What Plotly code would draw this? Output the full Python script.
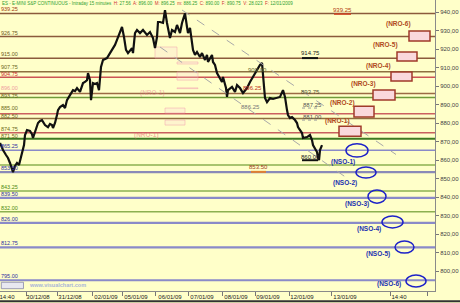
import plotly.graph_objects as go

# ---------------- data ----------------
bar_x = [0, 3, 6, 8, 10, 12, 13, 15, 17, 19, 21, 22, 24, 25,
         26, 27, 30, 32, 33, 35, 38, 40, 42, 45, 48, 50, 52, 53, 55, 57, 58, 60, 63, 65, 67, 70, 73, 75, 77, 80,
         83, 85, 87, 88, 90, 91, 93, 95, 97, 99, 101, 103, 105, 107, 110, 113, 115, 117, 120, 122, 124, 126, 128,
         130, 132, 133, 135, 137, 140, 143, 145, 147, 150, 153, 155, 157,
         158, 160, 163, 165, 167, 170, 172, 175, 177, 180, 182, 185, 187, 188, 190,
         192, 193, 195, 197, 200, 202, 205, 207, 208, 210, 212, 213, 215, 217, 220, 222, 223,
         226, 227, 228, 232, 235, 237, 240, 243, 247, 250, 253, 255, 257, 260, 262, 263, 265, 267, 270, 273, 277,
         280, 283, 285, 287, 288, 290, 292, 295, 297, 298, 300, 302, 303, 307, 310, 312, 313, 315, 317, 318, 319,
         320, 322]
price = [869.2, 865.4, 862.7, 861.1, 858.4, 855.7, 853.5, 856.8, 858.4, 857.3, 861.1, 863.8, 868.1, 873.5,
         875.1, 876.2, 875.7, 874.0, 871.9, 875.1, 880.0, 881.1, 881.6, 878.9, 877.8, 879.5, 878.9, 877.3, 880.0, 884.3,
         887.0, 888.6, 889.7, 888.1, 892.4, 895.1, 897.8, 897.3, 898.9, 896.8,
         901.6, 902.2, 903.2, 907.0, 903.2, 892.4, 901.6, 901.1, 901.6, 897.8, 910.3, 914.1, 914.6, 915.1, 917.8,
         920.5, 922.2, 924.9, 929.2, 931.9, 926.5, 919.5, 917.8,
         919.5, 920.5, 917.8, 928.6, 930.3, 928.6, 930.3, 928.6, 927.6, 929.2, 925.9, 920.5, 926.5,
         934.6, 934.6, 934.1, 941.0, 934.1, 925.9, 930.3, 929.2, 933.0, 928.6, 934.1, 939.25, 931.9, 928.6, 931.4,
         923.8, 919.5, 916.8, 918.4, 915.7, 917.8, 914.1, 916.8, 913.0, 915.1, 916.8, 913.0, 911.4, 907.0, 904.3,
         902.2, 904.9,
         898.9, 894.1, 897.8, 899.5, 896.8, 900.5, 898.9, 896.2, 898.9, 902.2, 904.9, 907.0, 908.6, 911.4, 912.5,
         907.0, 893.5, 891.3, 893.5, 893.0, 893.5,
         894.1, 897.8, 894.1, 887.0, 884.3, 882.7, 883.2, 881.6, 880.0, 877.8, 876.2, 874.6, 871.9, 872.4, 873.5,
         870.8, 868.1, 866.5, 864.3, 861.1, 860.0,
         865.4, 868.1]

level_values = [939.25, 926.75, 915.00, 907.75, 904.75, 896.00, 893.75, 885.00, 882.50, 874.75, 871.50,
                865.25, 857.25, 853.50, 843.25, 839.50, 832.00, 826.00, 812.75, 795.00]
level_labels = ["939.25", "926.75", "915.00", "907.75", "904.75", "896.00", "893.75", "885.00", "882.50",
                "874.75", "871.50", "865.25", "", "853.50", "843.25", "839.50", "832.00", "826.00", "812.75",
                "795.00"]

nro_names = ["(NRO-1)", "(NRO-2)", "(NRO-3)", "(NRO-4)", "(NRO-5)", "(NRO-6)"]
nro_low = [872.8, 883.3, 892.4, 902.7, 913.5, 924.3]
nro_high = [878.2, 889.1, 897.8, 907.6, 918.4, 929.7]

nso_names = ["(NSO-1)", "(NSO-2)", "(NSO-3)", "(NSO-4)", "(NSO-5)", "(NSO-6)"]
nso_low = [861.6, 850.3, 836.7, 823.3, 809.7, 791.4]
nso_high = [868.8, 856.2, 843.8, 829.7, 816.2, 797.8]

day_labels = ["14:40", "30/12/08", "31/12/08", "02/01/09", "05/01/09", "06/01/09", "07/01/09",
              "08/01/09", "09/01/09", "12/01/09", "13/01/09", "14:40"]
day_label_pos = [7, 38, 70, 106, 136, 170, 202, 236, 268, 302, 345, 399]
day_breaks = [26, 57, 92, 122, 155, 188, 222, 255, 289, 331, 390, 427]

y_ticks = [940, 930, 920, 910, 900, 890, 880, 870, 860, 850, 840, 830, 820, 810, 800]

price_notes = ["939.25", "914.75", "893.75", "887.25", "881.00", "860.00", "853.50", "896.25", "886.25", "909.00"]
note_x = [342, 310, 310, 312, 312, 310, 258, 252, 250, 257]
note_y = [941.3, 917.8, 896.6, 890.0, 883.4, 861.8, 856.0, 898.9, 888.6, 908.8]

# ---------------- styles / placement ----------------
BG = "#FFFFC9"
FONT = "Liberation Sans, Arial, sans-serif"
level_colors = ["#8B5A3C", "#8B5A3C", "#8B5A3C", "#8E7040", "#CC5555", "#9B6A45", "#6E9A3A", "#CC6060",
                "#8E6E40", "#C86060", "#3E7A22", "#8A8AC8", "#8CB050", "#8A8AB8", "#8CB050", "#8A8AC8",
                "#8CB050", "#8A8AC8", "#8A8AC8", "#8A8AC8"]
level_widths = [1.5, 1.5, 1.5, 1.5, 1.5, 1.5, 1.5, 1.5, 1.5, 1.5, 2.2, 1.5, 1.5, 2.2, 1.5, 2.2, 1.5, 2.2, 2.2, 2.2]
label_colors = ["#A03A10", "#6E5A20", "#6E5A20", "#6E6A20", "#CC3030", "#F0A0A0", "#6E6A20", "#6E6A20",
                "#6E6A20", "#6E6A20", "#6E6A20", "#3030A0", "#3030A0", "#3030A0", "#4E8A10", "#3030A0",
                "#4E8A10", "#3030A0", "#3030A0", "#3030A0"]
label_shift = [-1, -1, -1, 0, -2, 0, -3, 1, -3, -1, -2, -1, 0, -1, -1, -1, -1, -1, -1, -1]
nro_x0 = [339, 354, 373, 391, 397, 409]
nro_x1 = [361, 374, 395, 412, 417, 430]
nro_lx = [337, 342, 363, 378, 385, 398]
nro_ly = [881.1, 890.8, 901.1, 910.8, 922.2, 933.5]
nso_x0 = [346, 356, 368, 382, 395, 406]
nso_x1 = [368, 376, 386, 403, 414, 426]
nso_lx = [343, 345, 357, 369, 378, 389]
nso_ly = [858.9, 847.6, 836.2, 822.7, 809.2, 793.0]
note_colors = ["#B03A10", "#222222", "#555533", "#555555", "#555555", "#222222", "#A04020", "#C03020",
               "#777777", "#666633"]

fig = go.Figure()

shapes = []
annotations = []

# faint ghost boxes from earlier projections
ghost = [(155, 177, 915.1, 921.1), (177, 198, 911.9, 913.0), (177, 198, 903.2, 907.6),
         (177, 198, 898.6, 899.0), (165, 185, 885.4, 888.1), (165, 185, 878.9, 881.6)]
for gx0, gx1, gy0, gy1 in ghost:
    shapes.append(dict(type="rect", xref="x", yref="y", x0=gx0, x1=gx1, y0=gy0, y1=gy1,
                       line=dict(color="rgba(240,150,170,0.45)", width=1),
                       fillcolor="rgba(250,210,220,0.25)", layer="below"))
annotations.append(dict(x=152, y=896.5, xref="x", yref="y", text="<b>(NRO-1)</b>", showarrow=False,
                        font=dict(family=FONT, size=6.5, color="rgba(230,120,140,0.45)")))
annotations.append(dict(x=146, y=873.3, xref="x", yref="y", text="<b>(NRO-1)</b>", showarrow=False,
                        font=dict(family=FONT, size=6.5, color="rgba(230,90,110,0.45)")))

# horizontal levels
for v, c, w in zip(level_values, level_colors, level_widths):
    shapes.append(dict(type="line", xref="paper", yref="y", x0=0, x1=1, y0=v, y1=v,
                       line=dict(color=c, width=w), layer="below"))
for v, t, c, s in zip(level_values, level_labels, label_colors, label_shift):
    if t:
        annotations.append(dict(x=0, y=v, xref="paper", yref="y", text=t, showarrow=False,
                                xanchor="left", yanchor="bottom", yshift=s, xshift=-1,
                                font=dict(family=FONT, size=5.5, color=c)))

# dashed trend lines
shapes.append(dict(type="line", xref="x", yref="y", x0=182, y0=941.1, x1=396, y1=863.0,
                   line=dict(color="#A8A8A8", width=1, dash="dash")))
shapes.append(dict(type="line", xref="x", yref="y", x0=160, y0=921.1, x1=346, y1=850.6,
                   line=dict(color="#A8A8A8", width=1, dash="dash")))

# NRO boxes
for n, lo, hi, x0, x1, lx, ly in zip(nro_names, nro_low, nro_high, nro_x0, nro_x1, nro_lx, nro_ly):
    shapes.append(dict(type="rect", xref="x", yref="y", x0=x0, x1=x1, y0=lo, y1=hi,
                       line=dict(color="#A03A2A", width=1.5), fillcolor="#FAD8DC"))
    annotations.append(dict(x=lx, y=ly, xref="x", yref="y", text="<b>" + n + "</b>", showarrow=False,
                            font=dict(family=FONT, size=6.5, color="#B04A20")))

# NSO ellipses
for n, lo, hi, x0, x1, lx, ly in zip(nso_names, nso_low, nso_high, nso_x0, nso_x1, nso_lx, nso_ly):
    shapes.append(dict(type="circle", xref="x", yref="y", x0=x0, x1=x1, y0=lo, y1=hi,
                       line=dict(color="#1E22C8", width=1.5)))
    annotations.append(dict(x=lx, y=ly, xref="x", yref="y", text="<b>" + n + "</b>", showarrow=False,
                            font=dict(family=FONT, size=6.5, color="#2230B0")))

# price notes and their underlines
for t, nx, ny, c in zip(price_notes, note_x, note_y, note_colors):
    annotations.append(dict(x=nx, y=ny, xref="x", yref="y", text=t, showarrow=False,
                            font=dict(family=FONT, size=6, color=c)))
underlines = [(334, 351, 938.9, "#D04020", "solid", 1.5), (302, 318, 915.1, "#111111", "solid", 2),
              (302, 318, 888.1, "#999999", "dot", 1), (302, 318, 881.6, "#999999", "dot", 1),
              (302, 318, 859.9, "#111111", "solid", 2), (251, 266, 853.6, "#E08030", "solid", 2)]
for ux0, ux1, uy, uc, ud, uw in underlines:
    shapes.append(dict(type="line", xref="x", yref="y", x0=ux0, x1=ux1, y0=uy, y1=uy,
                       line=dict(color=uc, width=uw, dash=ud)))

# price series
fig.add_trace(go.Scatter(x=bar_x, y=price, mode="lines",
                         line=dict(color="#111111", width=2.2), hoverinfo="skip", showlegend=False))

# header text
annotations.append(dict(x=0, y=1, xref="paper", yref="paper", xanchor="left", yanchor="top", yshift=1,
                        showarrow=False,
                        text=("<span style='color:#30A030'>ES - E-MINI S&amp;P CONTINUOUS - Intraday 15 minutes</span>"
                              "<span style='color:#D03030'>  H:</span><span style='color:#30A030'> 27.56</span>"
                              "<span style='color:#D03030'>  A:</span><span style='color:#30A030'> 896.00</span>"
                              "<span style='color:#D03030'>  M:</span><span style='color:#30A030'> 896.25</span>"
                              "<span style='color:#D03030'>  m:</span><span style='color:#30A030'> 886.25</span>"
                              "<span style='color:#D03030'>  C:</span><span style='color:#30A030'> 890.00</span>"
                              "<span style='color:#D03030'>  F:</span><span style='color:#30A030'> 890.75</span>"
                              "<span style='color:#D03030'>  V:</span><span style='color:#30A030'> 28.023</span>"
                              "<span style='color:#D03030'>  F:</span><span style='color:#30A030'> 12/01/2009</span>"),
                        font=dict(family=FONT, size=4.5)))
# watermark
annotations.append(dict(x=0.062, y=0.0, xref="paper", yref="paper", xanchor="left", yanchor="bottom",
                        showarrow=False, text="<b>www.visualchart.com</b>", yshift=1,
                        font=dict(family=FONT, size=5.5, color="#A8B4D8")))
shapes.append(dict(type="rect", xref="paper", yref="paper", x0=0.003, x1=0.054, y0=0.008, y1=0.03,
                   line=dict(color="#8888AA", width=0.8), fillcolor="#E8E8F0"))
# bottom border
shapes.append(dict(type="line", xref="paper", yref="paper", x0=0, x1=1.06, y0=-0.035, y1=-0.035,
                   line=dict(color="#333333", width=2)))

fig.update_layout(
    width=460, height=303,
    margin=dict(l=0, r=25, t=0, b=12),
    paper_bgcolor=BG, plot_bgcolor=BG,
    separators=",.",
    shapes=shapes, annotations=annotations,
    showlegend=False,
    xaxis=dict(range=[0, 435], showgrid=False, zeroline=False, automargin=False,
               tickmode="array", tickvals=day_label_pos, ticktext=day_labels, ticks="",
               ticklabeloverflow="allow",
               tickfont=dict(family=FONT, size=6, color="#222222"),
               showline=True, linecolor="#8A8A8A", linewidth=1,
               minor=dict(tickmode="array", tickvals=day_breaks, ticks="outside", ticklen=4,
                          tickcolor="#777777", showgrid=False)),
    yaxis=dict(range=[789.2, 946.5], side="right", showgrid=False, zeroline=False, automargin=False,
               tickmode="array", tickvals=y_ticks, tickformat=".2f", ticks="outside", ticklen=3,
               tickcolor="#777777", tickfont=dict(family=FONT, size=6, color="#444444"),
               showline=True, linecolor="#8A8A8A", linewidth=1),
)

fig.write_html("out.html")
